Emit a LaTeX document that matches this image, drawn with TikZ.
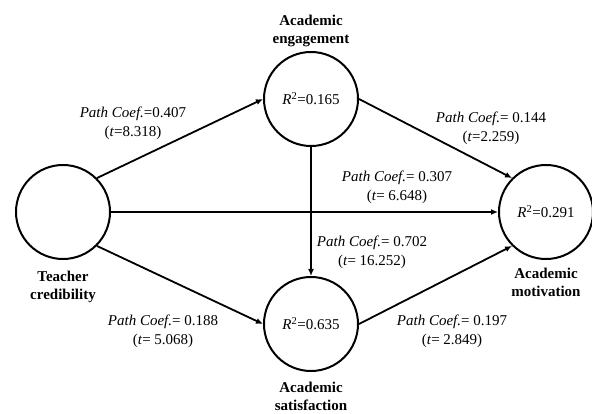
\documentclass[tikz,border=0pt]{standalone}
\usepackage{fontspec}
\setmainfont{Liberation Serif}
\usetikzlibrary{arrows.meta}
\usetikzlibrary{positioning}

\tikzset{
  latent/.style={circle, draw, line width=2pt, minimum size=94pt, inner sep=0pt,
    font=\fontsize{15}{18}\selectfont},
  construct/.style={font=\fontsize{15}{18}\selectfont\bfseries, align=center},
  coef/.style={font=\fontsize{15}{19}\selectfont, align=center}
}

\begin{document}
\begin{tikzpicture}[x=1pt, y=1pt, >={Latex[length=7pt,width=6pt]}, line width=1.8pt]
      \useasboundingbox (0,0) rectangle (592,-414);
      \node[latent] (tc) at (63,-212) {};
      \node[latent] (ae) at (311,-99) {\textit{R}\textsuperscript{2}=0.165};
      \node[latent] (as) at (311,-324) {\textit{R}\textsuperscript{2}=0.635};
      \node[latent] (am) at (546,-212) {\textit{R}\textsuperscript{2}=0.291};

      \path[->] (tc.north east) edge (ae.west);
      \path[->] (tc.east) edge (am.west);
      \path[->] (tc.south east) edge (as.west);
      \path[->] (ae.east) edge (am.north west);
      \path[->] (ae.south) edge (as.north);
      \path[->] (as.east) edge (am.south west);

      \node[construct, above=0pt of ae] (ae-name) {Academic\\engagement};
      \node[construct, below=7pt of tc] (tc-name) {Teacher\\credibility};
      \node[construct, below=6pt of as] (as-name) {Academic\\satisfaction};
      \node[construct, below=4pt of am] (am-name) {Academic\\motivation};

      \node[coef] (c-te) at (133,-123) {\textit{Path Coef.}=0.407\\(\textit{t}=8.318)};
      \node[coef] (c-em) at (491,-128) {\textit{Path Coef.}= 0.144\\(\textit{t}=2.259)};
      \node[coef] (c-tm) at (397,-187) {\textit{Path Coef.}= 0.307\\(\textit{t}= 6.648)};
      \node[coef] (c-es) at (372,-252) {\textit{Path Coef.}= 0.702\\(\textit{t}= 16.252)};
      \node[coef] (c-ts) at (163,-331) {\textit{Path Coef.}= 0.188\\(\textit{t}= 5.068)};
      \node[coef] (c-sm) at (452,-331) {\textit{Path Coef.}= 0.197\\(\textit{t}= 2.849)};
    \end{tikzpicture}
\end{document}
